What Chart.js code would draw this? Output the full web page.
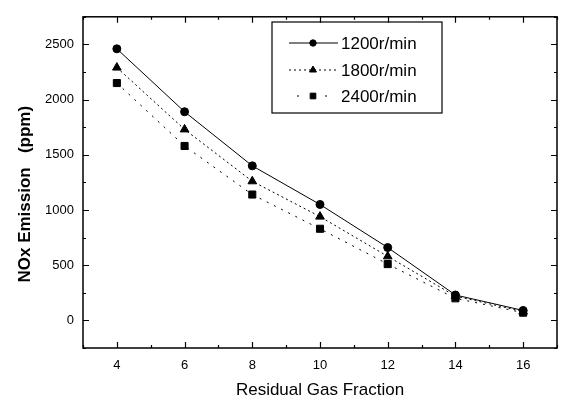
<!DOCTYPE html>
<html>
<head>
<meta charset="utf-8">
<title>NOx Emission vs Residual Gas Fraction</title>
<script src="https://cdn.jsdelivr.net/npm/chart.js@4/dist/chart.umd.min.js"></script>
<style>
  html, body { margin: 0; padding: 0; background: #fff; }
  canvas { display: block; }
</style>
</head>
<body>
<canvas id="noxChart" width="568" height="401"></canvas>
<script>
// residual gas fraction (%) and NOx (ppm) at three engine speeds
const gasFraction = [4, 6, 8, 10, 12, 14, 16];
const nox1200 = [2460, 1890, 1400, 1050, 660, 230, 90];
const nox1800 = [2290, 1730, 1260, 940, 580, 220, 80];
const nox2400 = [2150, 1580, 1140, 830, 510, 200, 70];
const speedLabels = ["1200r/min", "1800r/min", "2400r/min"];

const FONT = "'Liberation Sans', Arial, sans-serif";

function toPoints(values) {
    return gasFraction.map((x, i) => ({ x: x, y: values[i] }));
}

// frame round the plot with inward major/minor ticks on all four sides
const framePlugin = {
    id: "frame",
    afterDraw(chart) {
        const { ctx, chartArea, scales } = chart;
        const { left, right, top, bottom } = chartArea;
        ctx.save();
        ctx.strokeStyle = "#000";
        ctx.lineWidth = 1.5;
        ctx.strokeRect(left, top, right - left, bottom - top);
        ctx.lineWidth = 1.2;
        ctx.beginPath();
        scales.x.ticks.forEach(t => {
            const px = Math.round(scales.x.getPixelForValue(t.value)) + 0.5;
            const len = t.value % 2 === 0 ? 6 : 3;
            ctx.moveTo(px, bottom); ctx.lineTo(px, bottom - len);
            ctx.moveTo(px, top); ctx.lineTo(px, top + len);
        });
        scales.y.ticks.forEach(t => {
            const py = Math.round(scales.y.getPixelForValue(t.value)) + 0.5;
            const len = t.value % 500 === 0 ? 6 : 3;
            ctx.moveTo(left, py); ctx.lineTo(left + len, py);
            ctx.moveTo(right, py); ctx.lineTo(right - len, py);
        });
        ctx.stroke();
        ctx.restore();
    }
};

// boxed legend inside the upper right of the plot
const legendBoxPlugin = {
    id: "legendBox",
    afterDraw(chart) {
        const ctx = chart.ctx;
        const box = { x: 272, y: 22, w: 170, h: 91 };
        ctx.save();
        ctx.strokeStyle = "#000";
        ctx.lineWidth = 1.2;
        ctx.strokeRect(box.x, box.y, box.w, box.h);
        const rows = [43, 70, 96];
        chart.data.datasets.forEach((ds, i) => {
            const y = rows[i];
            ctx.strokeStyle = "#000";
            ctx.lineWidth = 1;
            ctx.setLineDash(ds.borderDash || []);
            ctx.beginPath();
            if (i === 2) {
                ctx.moveTo(297, y); ctx.lineTo(301, y);
                ctx.moveTo(325, y); ctx.lineTo(329, y);
            } else {
                ctx.moveTo(289, y); ctx.lineTo(338, y);
            }
            ctx.stroke();
            ctx.setLineDash([]);
            ctx.fillStyle = "#000";
            Chart.helpers.drawPoint(ctx, {
                pointStyle: ds.pointStyle,
                radius: ds.pointRadius * 0.8,
                rotation: 0,
                borderWidth: 1
            }, 313, y);
            ctx.fillStyle = "#000";
            ctx.font = "17px " + FONT;
            ctx.textBaseline = "middle";
            ctx.fillText(ds.label, 341, y + 1);
        });
        ctx.restore();
    }
};

const baseSet = {
    borderColor: "#000",
    backgroundColor: "#000",
    pointBackgroundColor: "#000",
    pointBorderColor: "#000",
    borderWidth: 1,
    showLine: true,
    tension: 0,
    fill: false
};

new Chart(document.getElementById("noxChart"), {
    type: "scatter",
    data: {
        datasets: [
            Object.assign({}, baseSet, {
                label: speedLabels[0],
                data: toPoints(nox1200),
                pointStyle: "circle",
                pointRadius: 4
            }),
            Object.assign({}, baseSet, {
                label: speedLabels[1],
                data: toPoints(nox1800),
                borderDash: [2, 3],
                pointStyle: "triangle",
                pointRadius: 5
            }),
            Object.assign({}, baseSet, {
                label: speedLabels[2],
                data: toPoints(nox2400),
                borderDash: [2, 6],
                pointStyle: "rect",
                pointRadius: 5
            })
        ]
    },
    options: {
        responsive: false,
        animation: false,
        layout: { padding: { top: 9, right: 11, left: 0, bottom: 0 } },
        plugins: {
            legend: { display: false },
            tooltip: { enabled: false }
        },
        scales: {
            x: {
                type: "linear",
                min: 3,
                max: 17,
                grid: { display: false, drawTicks: false },
                border: { display: false },
                afterFit(scale) { scale.height = 53; },
                ticks: {
                    stepSize: 1,
                    autoSkip: false,
                    maxRotation: 0,
                    padding: 10,
                    color: "#000",
                    font: { family: FONT, size: 13 },
                    callback: v => (v % 2 === 0 ? v : "")
                },
                title: {
                    display: true,
                    text: "Residual Gas Fraction",
                    color: "#000",
                    font: { family: FONT, size: 17 },
                    padding: { top: 0, bottom: 0 }
                }
            },
            y: {
                min: -250,
                max: 2750,
                grid: { display: false, drawTicks: false },
                border: { display: false },
                afterFit(scale) { scale.width = 83; },
                ticks: {
                    stepSize: 250,
                    autoSkip: false,
                    padding: 9,
                    color: "#000",
                    font: { family: FONT, size: 13 },
                    callback: v => (v % 500 === 0 && v >= 0 ? v : "")
                },
                title: {
                    display: true,
                    text: "NOx Emission   (ppm)     ",
                    color: "#000",
                    font: { family: FONT, size: 17, weight: "bold" },
                    padding: { top: 15, bottom: 0 }
                }
            }
        }
    },
    plugins: [framePlugin, legendBoxPlugin]
});
</script>
</body>
</html>
